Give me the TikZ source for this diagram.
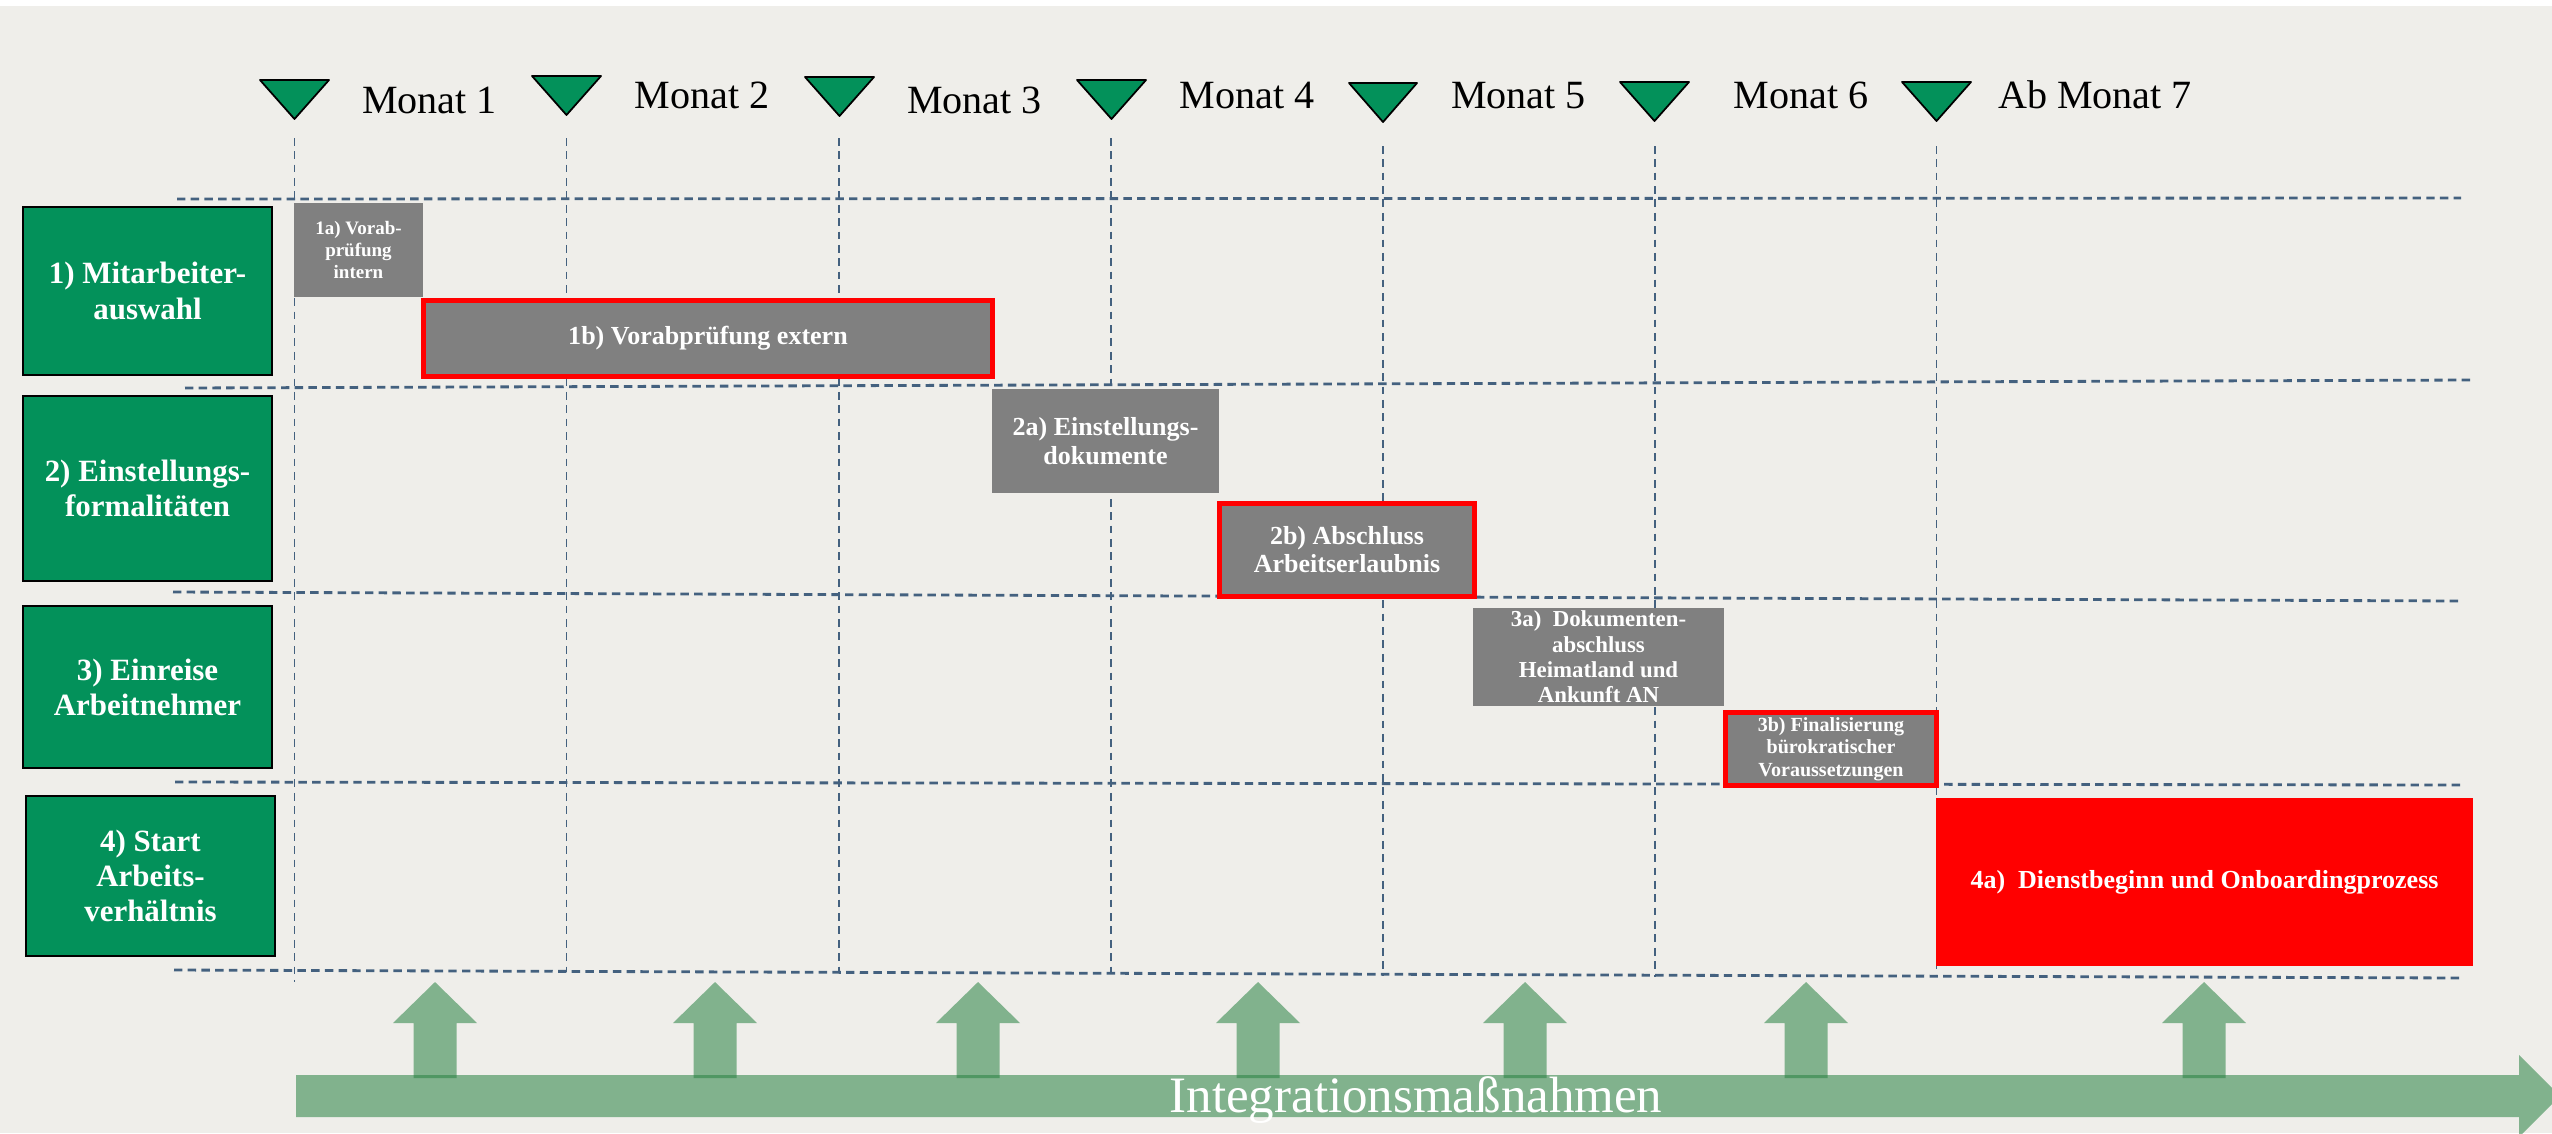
\documentclass[tikz,border=0pt]{standalone}
\usepackage{fontspec}
\setmainfont{Liberation Serif}
\definecolor{bg}{HTML}{EFEEEA}
\definecolor{dgreen}{HTML}{03915A}
\definecolor{gridc}{HTML}{44617F}
\definecolor{tgray}{HTML}{808080}
\definecolor{ared}{HTML}{FF0000}
\definecolor{agreen}{RGB}{40,130,65}
\begin{document}
\begin{tikzpicture}[x=0.01cm,y=-0.01cm,
  hline/.style={draw=gridc, line width=0.8pt, dash pattern=on 2.4pt off 1.5pt},
  vline/.style={draw=gridc, line width=0.55pt, dash pattern=on 2.2pt off 1.6pt},
  tri/.style={fill=dgreen, draw=black, line width=0.5pt, line join=round},
  phase/.style={fill=dgreen, draw=black, line width=0.6pt, text=white,
    font=\bfseries\fontsize{8.8}{10}\selectfont, align=center, inner sep=0pt,
    minimum width=2.49cm},
  task/.style={fill=tgray, text=white, align=center, inner sep=0pt},
  crit/.style={task, draw=ared, line width=1.42pt},
  month/.style={font=\fontsize{11.4}{13}\selectfont, anchor=base, inner sep=0pt},
  uparrow/.style={fill=agreen, fill opacity=0.55, draw=none},
  band/.style={fill=agreen, fill opacity=0.55, draw=none}]
\useasboundingbox (0,0) rectangle (2552,1133);
\clip (0,0) rectangle (2552,1133);
\fill[white] (0,0) rectangle (2552,6);
\fill[bg] (0,6) rectangle (2552,1133);

% horizontal grid lines
\draw[hline] (177,199) -- (2461,198);
\draw[hline] (185,388) -- (2472,380);
\draw[hline] (173,592) -- (2461,601);
\draw[hline] (175,782) -- (2462,785);
\draw[hline] (174,970) -- (2463,978);

% vertical grid lines
\draw[vline] (294.5,138) -- (294.5,982);
\draw[vline] (566.5,138) -- (566.5,972);
\draw[vline] (838.6,138) -- (838.6,973);
\draw[vline] (1111,138) -- (1111,974);
\draw[vline] (1383,146) -- (1383,976);
\draw[vline] (1655,146) -- (1655,977);
\draw[vline] (1936.5,146) -- (1936.5,977);

% milestone triangles
\filldraw[tri] (260,80) -- (329,80) -- (294.5,119) -- cycle;
\filldraw[tri] (532,76) -- (601,76) -- (566.5,115) -- cycle;
\filldraw[tri] (805,77) -- (874,77) -- (839.5,116) -- cycle;
\filldraw[tri] (1077,80) -- (1146,80) -- (1111.5,119) -- cycle;
\filldraw[tri] (1349,83) -- (1417,83) -- (1383,122) -- cycle;
\filldraw[tri] (1620,82) -- (1689,82) -- (1654.5,121) -- cycle;
\filldraw[tri] (1902,82) -- (1971,82) -- (1936.5,121) -- cycle;

% month labels
\node[month] (m1) at (429.5,113) {Monat 1};
\node[month] (m2) at (702,108) {Monat 2};
\node[month] (m3) at (974.5,113) {Monat 3};
\node[month] (m4) at (1247,108) {Monat 4};
\node[month] (m5) at (1518.5,108) {Monat 5};
\node[month] (m6) at (1801,108) {Monat 6};
\node[month] (m7) at (2095,108) {Ab Monat 7};

% phase boxes
\node[phase, minimum height=1.68cm] (p1) at (147.5,291) {1) Mitarbeiter-\\auswahl};
\node[phase, minimum height=1.85cm] (p2) at (147.5,488.5) {2) Einstellungs-\\formalitäten};
\node[phase, minimum height=1.62cm] (p3) at (147.5,687) {3) Einreise\\Arbeitnehmer};
\node[phase, minimum height=1.60cm] (p4) at (150.5,876) {4) Start\\Arbeits-\\verhältnis};

% task boxes
\node[task, minimum width=1.29cm, minimum height=0.94cm,
  font=\bfseries\fontsize{5.4}{6.2}\selectfont] (t1a) at (358.5,250) {1a) Vorab-\\prüfung\\intern};
\node[crit, minimum width=5.69cm, minimum height=0.76cm,
  font=\bfseries\fontsize{7.4}{8.3}\selectfont] (t1b) at (708,338.5) {1b) Vorabprüfung extern};
\node[task, minimum width=2.27cm, minimum height=1.04cm,
  font=\bfseries\fontsize{7.4}{8.3}\selectfont] (t2a) at (1105.5,441) {2a) Einstellungs-\\dokumente};
\node[crit, minimum width=2.55cm, minimum height=0.93cm,
  font=\bfseries\fontsize{7.4}{8.0}\selectfont] (t2b) at (1347,550) {2b) Abschluss\\Arbeitserlaubnis};
\node[task, minimum width=2.51cm, minimum height=0.98cm,
  font=\bfseries\fontsize{6.5}{7.2}\selectfont] (t3a) at (1598.5,657) {3a)\ \ Dokumenten-\\abschluss\\Heimatland und\\Ankunft AN};
\node[crit, minimum width=2.11cm, minimum height=0.73cm,
  font=\bfseries\fontsize{5.7}{6.4}\selectfont] (t3b) at (1831,749) {3b) Finalisierung\\bürokratischer\\Voraussetzungen};
\node[task, fill=ared, minimum width=5.37cm, minimum height=1.68cm,
  font=\bfseries\fontsize{7.4}{8.3}\selectfont] (t4a) at (2204.5,882) {4a)\ \ Dienstbeginn und Onboardingprozess};

% integration band arrow
\fill[band] (296,1075) -- (2519,1075) -- (2519,1055) -- (2560,1096)
  -- (2519,1137) -- (2519,1117) -- (296,1117) -- cycle;
\foreach \cx in {435,715,978,1258,1525,1806,2204}{
  \fill[uparrow] (\cx-21.5,1078) -- (\cx-21.5,1023) -- (\cx-42,1023) -- (\cx,982)
    -- (\cx+42,1023) -- (\cx+21.5,1023) -- (\cx+21.5,1078) -- cycle;
}
\node[font=\fontsize{14.5}{16}\selectfont, text=white, anchor=base, inner sep=0pt]
  (integ) at (1416,1112) {Integrationsmaßnahmen};
\end{tikzpicture}
\end{document}
